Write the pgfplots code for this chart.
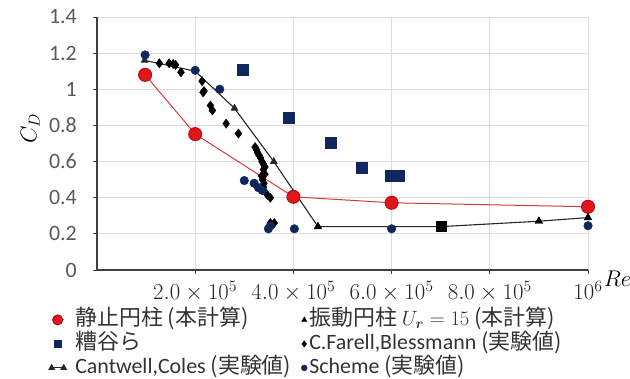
\documentclass[border=0pt]{standalone}
\usepackage{graphicx}
\usepackage{pgfplots}
\pgfplotsset{compat=1.18}
\usepackage{bm}
\usepackage{fontspec}
\setmainfont{Carlito}
\newfontfamily\jp{Noto Sans CJK JP}
\definecolor{navy}{HTML}{10275E}
\definecolor{myred}{HTML}{E3141B}
\definecolor{redline}{HTML}{D63A3A}
\definecolor{gridc}{HTML}{DCDCDC}
\definecolor{axc}{HTML}{404040}
\definecolor{tickc}{HTML}{595959}
\definecolor{legc}{HTML}{333333}
\newcommand{\xt}[1]{\scalebox{1.1}{$#1$}}
\begin{document}
\begin{tikzpicture}[x=1bp,y=1bp]
\useasboundingbox (0,0) rectangle (630,378);
\begin{axis}[
  at={(97bp,108bp)}, anchor=south west,
  scale only axis, width=491bp, height=253bp,
  xmin=0, xmax=1e6, ymin=0, ymax=1.4,
  xtick={2e5,4e5,6e5,8e5,1e6},
  xticklabels={\xt{2.0\times10^5},\xt{4.0\times10^5},\xt{6.0\times10^5},\xt{8.0\times10^5},\xt{10^6}},
  ytick={0,0.2,0.4,0.6,0.8,1,1.2,1.4},
  yticklabels={0,0.2,0.4,0.6,0.8,1,1.2,1.4},
  scaled x ticks=false,
  grid=major, grid style={gridc, line width=0.8bp},
  axis lines=left, axis line style={axc, line width=1.2bp, -},
  tick style={axc, line width=0.8bp}, tick align=outside, major tick length=4bp,
  yticklabel style={font=\fontsize{22}{26}\selectfont, text=tickc, inner sep=0pt, anchor=east, xshift=-16bp},
  xticklabel style={font=\fontsize{20.74}{26}\selectfont, text=black!85, inner sep=0pt, anchor=north, yshift=-7bp},
  xlabel={\xt{Re}},
  xlabel style={at={(axis description cs:1.06,-0.036)}, anchor=center, font=\fontsize{20.74}{26}\selectfont},
  ylabel={\xt{C_D}},
  ylabel style={at={(axis description cs:-0.136,0.56)}, anchor=center, font=\fontsize{20.74}{26}\selectfont},
  legend columns=2,
  legend style={at={(axis description cs:-0.098,-0.155)}, anchor=north west, draw=none, fill=none,
    inner sep=0pt, row sep=3bp, font=\fontsize{22}{26}\selectfont, text=legc,
    nodes={inner sep=0pt, text height=16bp, text depth=5bp},
    /tikz/every odd column/.append style={column sep=9bp}},
  legend cell align=left,
  legend image code/.code={\draw[mark repeat=2,mark phase=2,#1] plot coordinates {(0bp,0bp) (6bp,0bp) (12bp,0bp)};},
]
% 静止円柱
\addplot[redline, line width=1bp, mark=*, mark size=6.5bp, mark options={fill=myred, draw=myred!80!black},
  legend image post style={mark size=5bp}]
 coordinates {(0.98e5,1.08) (2e5,0.752) (4e5,0.405) (6e5,0.372) (1e6,0.35)};
\addlegendentry{\makebox[226bp][l]{\jp 静止円柱\ (本計算)}}
% 振動円柱
\addplot[only marks, mark=triangle*, mark size=4.5bp, black, legend image post style={mark size=3bp}]
 coordinates {(4.5e5,0.24) (9e5,0.27) (1e6,0.29)};
\addlegendentry{\hspace{-7bp}{\jp 振動円柱} $U_{\bm{r}}=15$ {\jp (本計算)}}
% 糟谷ら
\addplot[only marks, mark=square*, mark size=5.5bp, navy, legend image post style={mark size=3.5bp}]
 coordinates {(2.96e5,1.11) (3.9e5,0.845) (4.76e5,0.705) (5.4e5,0.565) (5.98e5,0.52) (6.15e5,0.52)};
\addlegendentry{\makebox[226bp][l]{\jp 糟谷ら}}
% Farell
\addplot[only marks, mark=diamond*, mark size=4.6bp, black, legend image post style={mark size=3.2bp}]
 coordinates {(1.27e5,1.144) (1.47e5,1.144) (1.55e5,1.14) (1.6e5,1.135) (1.71e5,1.094)
 (2.14e5,1.045) (2.16e5,0.983) (2.18e5,0.99) (2.31e5,0.91) (2.35e5,0.883) (2.63e5,0.81) (2.88e5,0.755)
 (3.22e5,0.68) (3.25e5,0.665) (3.27e5,0.65) (3.30e5,0.635) (3.33e5,0.62) (3.36e5,0.60) (3.39e5,0.585)
 (3.42e5,0.57) (3.39e5,0.555) (3.42e5,0.53) (3.35e5,0.52) (3.37e5,0.5) (3.40e5,0.48) (3.39e5,0.46)
 (3.39e5,0.445) (3.47e5,0.415) (3.53e5,0.40) (3.53e5,0.26) (3.61e5,0.26)};
\addlegendentry{\hspace{-7bp}C.Farell,Blessmann {\jp (実験値)}}
% Cantwell
\addplot[black!85, line width=1.1bp, mark=triangle*, mark size=3.5bp, mark indices={1,3,4},
  legend image post style={mark size=3bp}]
 coordinates {(0.97e5,1.16) (2e5,1.10) (2.8e5,0.895) (3.6e5,0.60) (4.5e5,0.24) (7e5,0.24) (9e5,0.27) (1e6,0.29)};
\addlegendentry{\makebox[226bp][l]{Cantwell,Coles {\jp (実験値)}}}
% Scheme
\addplot[only marks, mark=*, mark size=4.3bp, navy, legend image post style={mark size=3bp}]
 coordinates {(0.98e5,1.19) (2e5,1.105) (2.5e5,1.0) (3.0e5,0.495) (3.2e5,0.48) (3.29e5,0.455) (3.37e5,0.44)
 (3.49e5,0.228) (3.53e5,0.244) (4.02e5,0.228) (6.0e5,0.228) (1e6,0.245)};
\addlegendentry{\hspace{-7bp}Scheme {\jp (実験値)}}
% black square on line
\addplot[only marks, mark=square*, mark size=5bp, black, forget plot]
 coordinates {(7e5,0.24)};
\end{axis}
\end{tikzpicture}
\end{document}
